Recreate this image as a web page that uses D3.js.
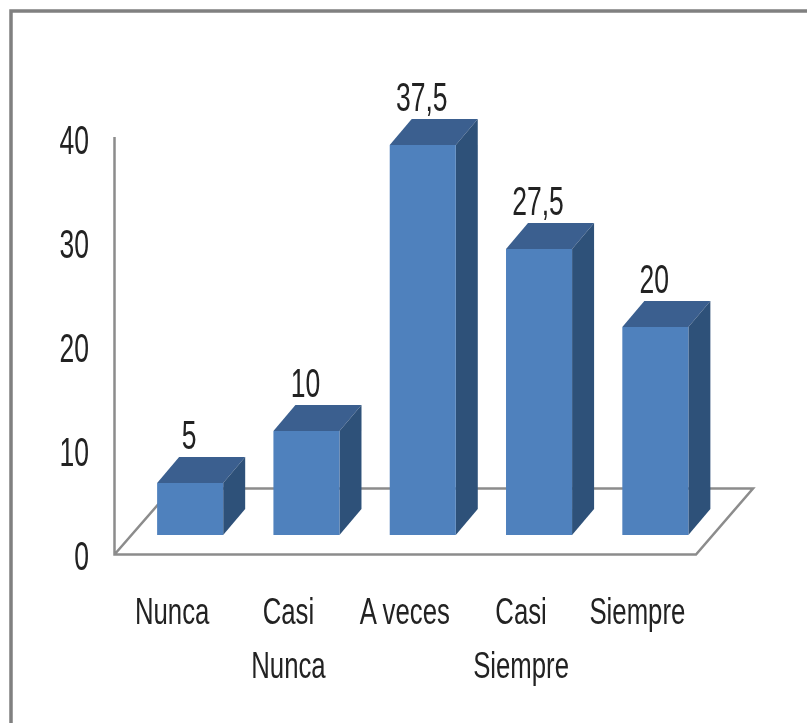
<!DOCTYPE html>
<html><head><meta charset="utf-8">
<script src="https://cdn.jsdelivr.net/npm/d3@7/dist/d3.min.js"></script>
<style>html,body{margin:0;padding:0;background:#fff;overflow:hidden}svg{display:block}
text{font-family:"Liberation Sans",Arial,sans-serif;fill:#222}</style>
</head><body><svg id="c" width="807" height="723"></svg>
<script>
const categories = [["Nunca"],["Casi","Nunca"],["A veces"],["Casi","Siempre"],["Siempre"]];
const values = [5,10,37.5,27.5,20];
const valueLabels = ["5","10","37,5","27,5","20"];
const yTicks = [0,10,20,30,40];

const svg = d3.select("#c");
const defs = svg.append("defs");
defs.append("filter").attr("id","soft").append("feGaussianBlur").attr("stdDeviation",0.6);
const root = svg.append("g").attr("filter","url(#soft)");

// frame
root.append("path").attr("d","M11,723V11H807").attr("fill","none").attr("stroke","#808080").attr("stroke-width",3.5);

const depthX = 22, depthY = 26;
const x = d3.scaleBand().domain(d3.range(values.length)).range([132,713.5]).paddingInner(0.432).paddingOuter(0.216);
const yAxisScale = d3.scaleLinear().domain([0,40]).range([555,139]);
const yBar = d3.scaleLinear().domain([0,40]).range([535,119]);

// walls / floor
const wall = root.append("g").attr("fill","none").attr("stroke","#8c8c8c").attr("stroke-width",2.5);
wall.append("path").attr("d",d3.line()([[114.5,137],[114.5,554.5],[696,554.5],[753,488.5],[172,488.5],[114.5,554.5]]));

// bars
const bars = root.append("g").selectAll("g").data(values).join("g");
bars.append("path").attr("fill","#3a5f8f").attr("d",(d,i)=>{
  const l=x(i), r=l+x.bandwidth(), t=yBar(d);
  return d3.line()([[l,t],[l+depthX,t-depthY],[r+depthX,t-depthY],[r,t]])+"Z";
});
bars.append("path").attr("fill","#2f5179").attr("d",(d,i)=>{
  const r=x(i)+x.bandwidth(), t=yBar(d), b=yBar(0);
  return d3.line()([[r,t],[r+depthX,t-depthY],[r+depthX,b-depthY],[r,b]])+"Z";
});
bars.append("rect").attr("fill","#4f81bd")
  .attr("x",(d,i)=>x(i)).attr("width",x.bandwidth())
  .attr("y",d=>yBar(d)).attr("height",d=>yBar(0)-yBar(d));

const sx = 0.68, sy = 1.05;
const fs = 39, catFs = 33;

// value labels
root.append("g").selectAll("text").data(values).join("text")
  .attr("text-anchor","middle").attr("font-size",fs)
  .attr("transform",(d,i)=>`translate(${x(i)+x.bandwidth()/2-1},${yBar(d)-depthY-8}) scale(${sx},${sy})`)
  .text((d,i)=>valueLabels[i]);

// y axis labels
const yAxisG = root.append("g").attr("transform","translate(114,0)")
  .call(d3.axisLeft(yAxisScale).tickValues(yTicks).tickSize(0).tickFormat(d3.format("d")));
yAxisG.select(".domain").remove();
yAxisG.selectAll("text").attr("font-size",fs).attr("font-family",null).attr("text-anchor","end")
  .attr("x",null).attr("dy",null).attr("fill",null)
  .attr("transform",`translate(-25,14) scale(${sx},${sy})`);

// x axis labels
const xAxisG = root.append("g").attr("transform","translate(-18,0)")
  .call(d3.axisBottom(x).tickSize(0).tickFormat(""));
xAxisG.select(".domain").remove();
xAxisG.selectAll(".tick").each(function(i){
  const g = d3.select(this);
  g.selectAll("text").remove();
  categories[i].forEach((line,k)=>{
    g.append("text").attr("text-anchor","middle").attr("font-size",catFs).attr("font-family",null)
     .attr("transform",`translate(0,${623.5+k*54}) scale(0.78,1.14)`).text(line);
  });
});
</script></body></html>
